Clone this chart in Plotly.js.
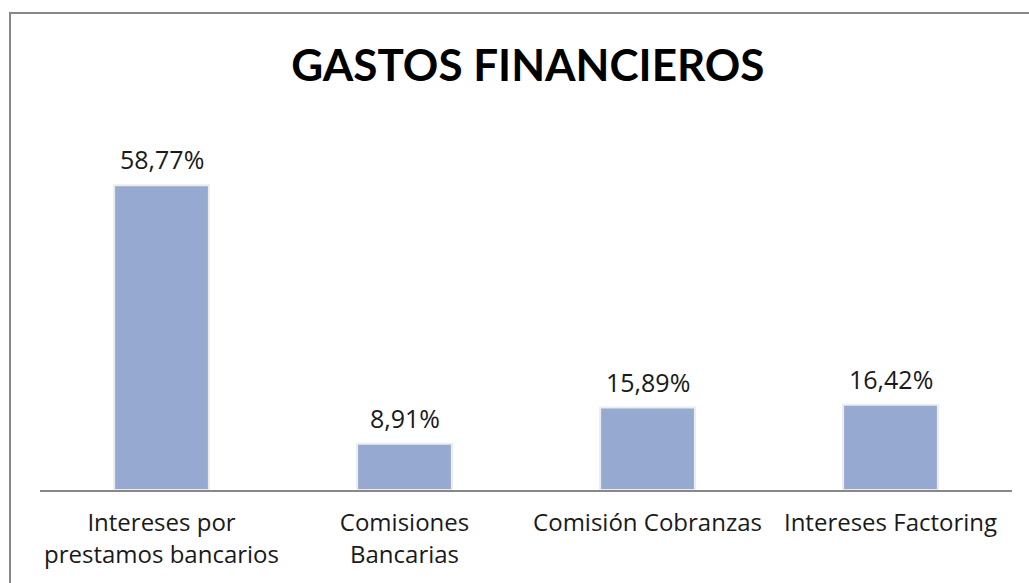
<!DOCTYPE html>
<html><head><meta charset="utf-8">
<script src="https://cdn.plot.ly/plotly-3.0.1.min.js"></script>
<style>
html,body{margin:0;padding:0;background:#fff;}
#wrap{position:relative;width:1029px;height:583px;overflow:hidden;}
#frame{position:absolute;left:9px;top:12px;width:1100px;height:700px;border-left:2px solid #878787;border-top:2px solid #878787;pointer-events:none;z-index:5;}
#chart{position:absolute;left:0;top:0;width:1029px;height:583px;}
</style></head>
<body><div id="wrap"><div id="chart"></div><div id="frame"></div></div>
<script>
const categories = ["Intereses por<br>prestamos bancarios", "Comisiones<br>Bancarias", "Comisión Cobranzas", "Intereses Factoring"];
const values = [58.77, 8.91, 15.89, 16.42];
const labels = values.map(v => v.toFixed(2).replace('.', ',') + '%');

const TFONT = 'Lato, "Open Sans", sans-serif';
const FONT = '"Open Sans", Lato, sans-serif';
const annotations = categories.map((c, i) => ({
  x: c, y: values[i], text: labels[i], showarrow: false,
  xanchor: 'center', yanchor: 'bottom', yshift: 7,
  font: {family: FONT, size: 25, color: '#1a1a1a'}
}));
Plotly.newPlot('chart', [{
  type: 'bar',
  x: categories,
  y: values,
  marker: {color: '#95A9D1', line: {color: '#ececec', width: 2}},
  hoverinfo: 'skip'
}], {
  width: 1029, height: 583,
  margin: {l: 40, r: 17, t: 127, b: 93},
  paper_bgcolor: '#fff', plot_bgcolor: '#fff',
  bargap: 0.61,
  showlegend: false,
  annotations: annotations,
  title: {text: '<b>GASTOS FINANCIEROS</b>', font: {family: TFONT, size: 44, color: '#000'}, x: 0.513, xanchor: 'center', y: 0.888, yanchor: 'middle'},
  xaxis: {showline: true, linecolor: '#888', linewidth: 1.5, ticks: '', showgrid: false, ticklabelstandoff: 11,
          tickfont: {family: FONT, size: 24, color: '#1a1a1a'}, automargin: false, fixedrange: true},
  yaxis: {range: [0, 70], visible: false, showgrid: false, zeroline: false, fixedrange: true}
}, {staticPlot: true});
</script></body></html>
